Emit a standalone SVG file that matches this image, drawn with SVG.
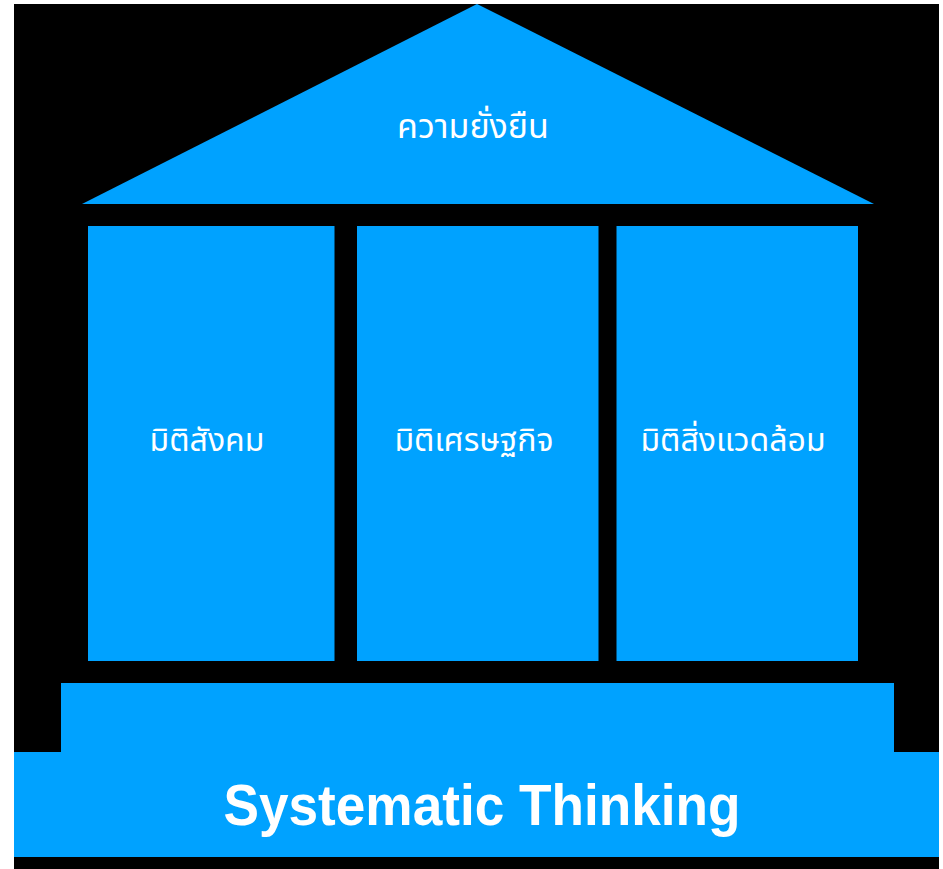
<svg xmlns="http://www.w3.org/2000/svg" width="943" height="869" viewBox="0 0 943 869">
<style>
.blk{fill:#000}
.part{fill:#00A2FF}
.th{fill:#fff;font-family:"Noto Sans Thai","Noto Sans","DejaVu Sans",sans-serif;font-size:32px;text-anchor:middle}
.en{fill:#fff;font-family:"Liberation Sans",Arial,sans-serif;font-weight:bold;font-size:58px;text-anchor:middle}
</style>
<rect x="0" y="0" width="943" height="869" fill="#fff"/>
<rect class="blk" x="14" y="4" width="925" height="865"/>
<g id="roof">
<polygon class="part" points="477,4 874,204 82,204"/>
<text class="th" x="473" y="138" style="font-size:34px">ความยั่งยืน</text>
</g>
<g id="pillar-social">
<rect class="part" x="88" y="226" width="246.5" height="435"/>
<text class="th" x="207" y="451">มิติสังคม</text>
</g>
<g id="pillar-economic">
<rect class="part" x="357" y="226" width="241.5" height="435"/>
<text class="th" x="474" y="451">มิติเศรษฐกิจ</text>
</g>
<g id="pillar-environment">
<rect class="part" x="616.5" y="226" width="241.5" height="435"/>
<text class="th" x="733" y="451">มิติสิ่งแวดล้อม</text>
</g>
<g id="base">
<rect class="part" x="61" y="683" width="833" height="70"/>
<rect class="part" x="14" y="752" width="925" height="105"/>
<text class="en" x="482" y="825" textLength="517" lengthAdjust="spacingAndGlyphs">Systematic Thinking</text>
</g>
<g id="connectors"></g>
</svg>
